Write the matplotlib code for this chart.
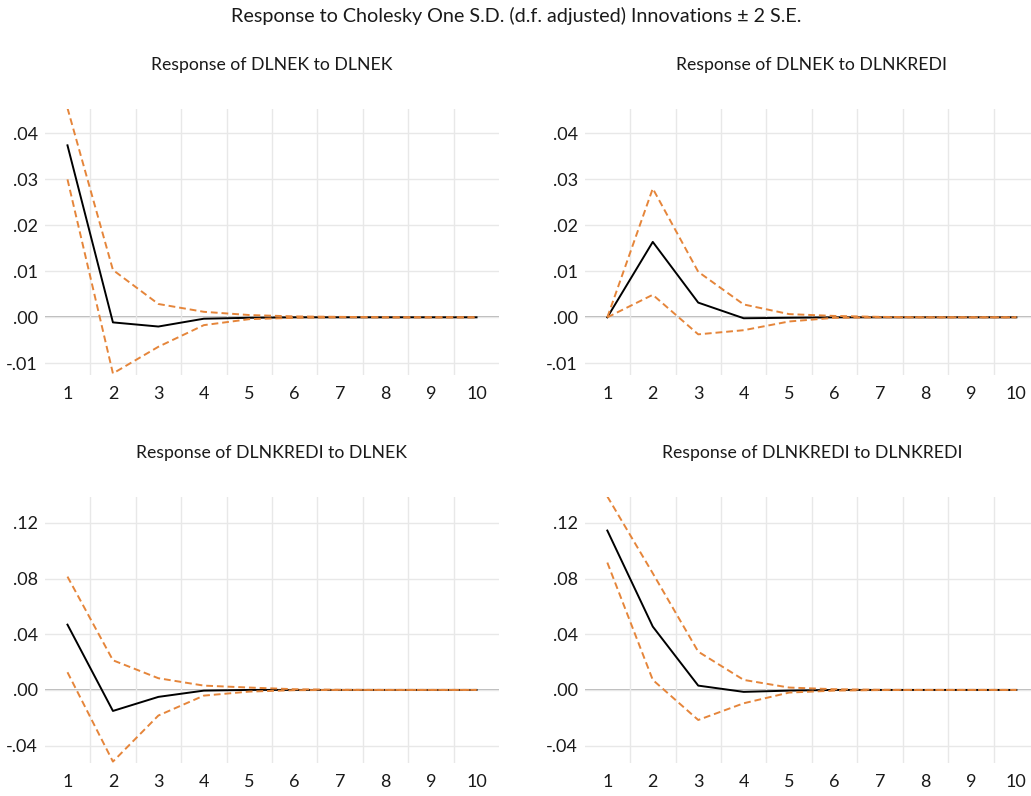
import numpy as np
import matplotlib
matplotlib.use('Agg')
from matplotlib import pyplot as plt

plt.rcParams['font.family'] = ['Lato', 'DejaVu Sans']

periods = np.arange(1, 11)

# response of DLNEK to DLNEK
r11 = [0.0374, -0.0011, -0.0020, -0.0003, -0.0001, 0.0, 0.0, 0.0, 0.0, 0.0]
u11 = [0.0455, 0.0103, 0.0029, 0.0012, 0.0005, 0.0002, 0.0001, 0.0, 0.0, 0.0]
l11 = [0.0300, -0.0122, -0.0064, -0.0017, -0.0004, -0.0001, 0.0, 0.0, 0.0, 0.0]

# response of DLNEK to DLNKREDI
r12 = [0.0, 0.0164, 0.0032, -0.0002, -0.0001, 0.0, 0.0, 0.0, 0.0, 0.0]
u12 = [0.0, 0.0280, 0.0099, 0.0028, 0.0007, 0.0003, 0.0001, 0.0, 0.0, 0.0]
l12 = [0.0, 0.0049, -0.0037, -0.0028, -0.0009, -0.0001, 0.0, 0.0, 0.0, 0.0]

# response of DLNKREDI to DLNEK
r21 = [0.0469, -0.0151, -0.0050, -0.0005, 0.0, 0.0, 0.0, 0.0, 0.0, 0.0]
u21 = [0.0814, 0.0213, 0.0084, 0.0031, 0.0017, 0.0005, 0.0001, 0.0, 0.0, 0.0]
l21 = [0.0127, -0.0515, -0.0184, -0.0041, -0.0012, -0.0002, 0.0, 0.0, 0.0, 0.0]

# response of DLNKREDI to DLNKREDI
r22 = [0.1145, 0.0455, 0.0031, -0.0014, -0.0005, 0.0, 0.0, 0.0, 0.0, 0.0]
u22 = [0.1390, 0.0838, 0.0275, 0.0072, 0.0017, 0.0005, 0.0001, 0.0, 0.0, 0.0]
l22 = [0.0915, 0.0072, -0.0216, -0.0096, -0.0019, -0.0005, -0.0001, 0.0, 0.0, 0.0]

titles = ['Response of DLNEK to DLNEK', 'Response of DLNEK to DLNKREDI',
          'Response of DLNKREDI to DLNEK', 'Response of DLNKREDI to DLNKREDI']
top_ticks = [-0.01, 0.0, 0.01, 0.02, 0.03, 0.04]
top_labels = ['-.01', '.00', '.01', '.02', '.03', '.04']
bot_ticks = [-0.04, 0.0, 0.04, 0.08, 0.12]
bot_labels = ['-.04', '.00', '.04', '.08', '.12']

ORANGE = '#e5853a'
W, H = 1031, 796


def panel(fig, left_px, top_px, bottom_px, resp, upper, lower, ylim, ticks, labels, title):
    width_px = 454.5
    ax = fig.add_axes([left_px / W, 1 - bottom_px / H, width_px / W, (bottom_px - top_px) / H])
    for s in ax.spines.values():
        s.set_visible(False)
    ax.set_xlim(0.5, 10.5)
    ax.set_ylim(*ylim)
    ax.set_xticks(periods)
    ax.set_xticks(np.arange(1.5, 10.5, 1), minor=True)
    ax.set_yticks(ticks)
    ax.set_yticklabels(labels)
    ax.tick_params(which='both', length=0, labelsize=13, colors='#1a1a1a')
    ax.tick_params(axis='y', pad=5)
    ax.tick_params(axis='x', pad=8)
    ax.grid(True, which='minor', axis='x', color='#e8e8e8', lw=1)
    ax.grid(True, which='major', axis='y', color='#e8e8e8', lw=1)
    ax.axhline(0, color='#b0b0b0', lw=1.3, zorder=1)
    ax.plot(periods, resp, color='black', lw=1.4, zorder=3)
    ax.plot(periods, upper, color=ORANGE, lw=1.4, ls=(0, (3.5, 2)), zorder=4)
    ax.plot(periods, lower, color=ORANGE, lw=1.4, ls=(0, (3.5, 2)), zorder=4)
    fig.text((left_px + width_px / 2) / W, 1 - (top_px - 44) / H, title,
             ha='center', va='center', fontsize=12.7, color='#1a1a1a')
    return ax


fig = plt.figure(figsize=(W / 100, H / 100), dpi=100)
fig.text(516 / W, 1 - 16 / H, 'Response to Cholesky One S.D. (d.f. adjusted) Innovations \u00b1 2 S.E.',
         ha='center', va='center', fontsize=14.2, color='#1a1a1a')

top_lim = (-0.01254, 0.0453)
bot_lim = (-0.0525, 0.1386)
panel(fig, 44.75, 109, 375, r11, u11, l11, top_lim, top_ticks, top_labels, titles[0])
panel(fig, 584.6, 109, 375, r12, u12, l12, top_lim, top_ticks, top_labels, titles[1])
panel(fig, 44.75, 497, 763, r21, u21, l21, bot_lim, bot_ticks, bot_labels, titles[2])
panel(fig, 584.6, 497, 763, r22, u22, l22, bot_lim, bot_ticks, bot_labels, titles[3])

fig.savefig('out.png', dpi=100)
